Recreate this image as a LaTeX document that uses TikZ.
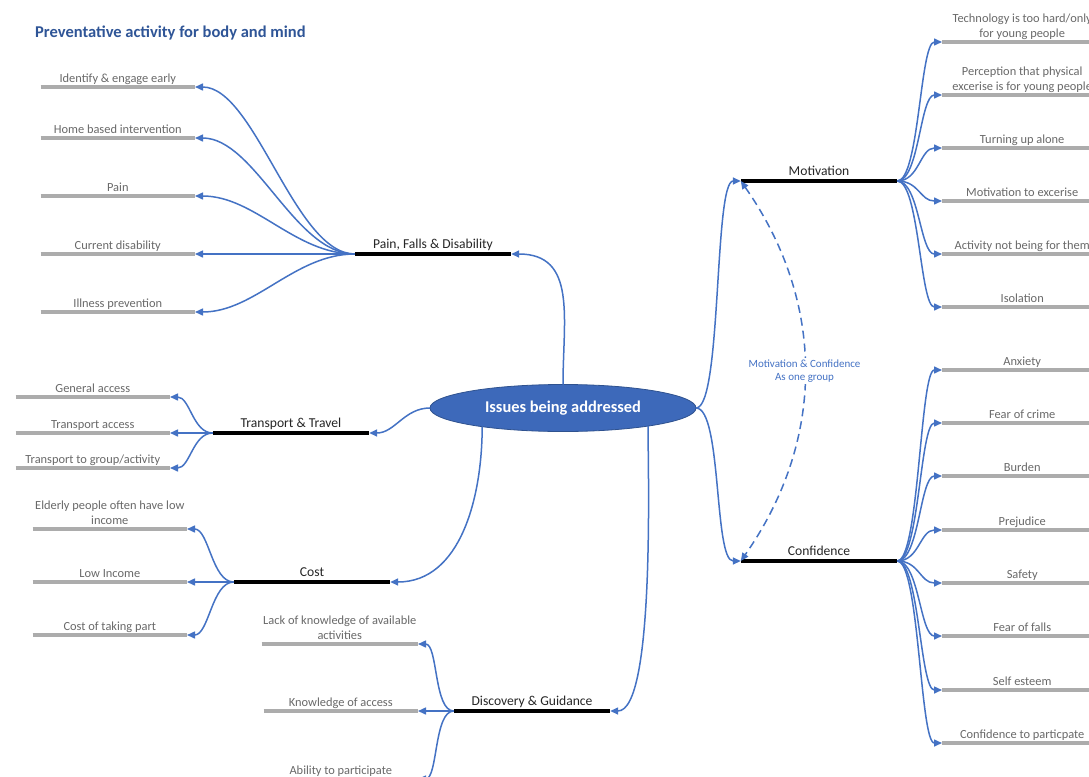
\documentclass[tikz,border=0pt]{standalone}
\usepackage{fontspec}
\setmainfont{Carlito}
\usepackage{xcolor}
\usepackage{tikz}
\usetikzlibrary{positioning, shapes, arrows.meta}

\definecolor{linkblue}{RGB}{68,114,196}
\definecolor{headblue}{RGB}{47,85,151}
\definecolor{ellblue}{RGB}{61,105,186}
\definecolor{ellrim}{RGB}{47,82,143}
\definecolor{linegray}{RGB}{172,172,172}
\definecolor{leafgray}{RGB}{105,105,105}
\definecolor{topicgray}{RGB}{38,38,38}

\begin{document}
\begin{tikzpicture}[
    x=1pt, y=1pt,
    >={Triangle[length=8pt, width=7pt]},
    link/.style={->, draw=linkblue, line width=1.5pt},
    heading/.style={font=\fontsize{16.5}{19}\selectfont\bfseries, text=headblue, inner sep=0pt},
    centre/.style={ellipse, fill=ellblue, draw=ellrim, line width=0.8pt, minimum width=266pt, minimum height=47pt, inner sep=0pt, outer sep=0pt, text=white, font=\fontsize{16.4}{19}\selectfont\bfseries},
    topic/.style={anchor=south, minimum width=156pt, inner sep=2pt, text depth=3pt, text=topicgray, font=\fontsize{13.6}{16}\selectfont,
        append after command={(\tikzlastnode.south west) edge[draw=black, line width=4.5pt] (\tikzlastnode.south east)}},
    leaf/.style={minimum width=154pt, inner sep=1.5pt, text depth=2.5pt, align=center, text=leafgray, font=\fontsize{12.4}{15}\selectfont,
        append after command={(\tikzlastnode.south west) edge[draw=linegray, line width=3.5pt] (\tikzlastnode.south east)}},
    lleaf/.style={leaf, anchor=south east},
    rleaf/.style={leaf, anchor=south west, minimum width=160pt},
    note/.style={fill=white, inner sep=1pt, align=center, text=linkblue, font=\fontsize{11}{13.5}\selectfont}
]

\useasboundingbox (0,0) rectangle (1089,-776);
\fill[white] (0,0) rectangle (1089,-776);

\node[heading, anchor=west] (title) at (35,-33) {Preventative activity for body and mind};

\node[centre] (issues) at (563,-408) {Issues being addressed};

% main branches
\node[topic] (pfd) at (433,-254) {Pain, Falls \& Disability};
\node[topic] (travel) at (291,-433) {Transport \& Travel};
\node[topic] (cost) at (312,-582) {Cost};
\node[topic] (disc) at (532,-711) {Discovery \& Guidance};
\node[topic] (motiv) at (819,-181) {Motivation};
\node[topic] (conf) at (819,-561) {Confidence};

% pain, falls & disability
\node[lleaf] (identify) at (195,-87) {Identify \& engage early};
\node[lleaf] (home) at (195,-138) {Home based intervention};
\node[lleaf] (pain) at (195,-196) {Pain};
\node[lleaf] (disab) at (195,-254) {Current disability};
\node[lleaf] (illness) at (195,-312) {Illness prevention};

% transport
\node[lleaf] (genacc) at (170,-397) {General access};
\node[lleaf] (tpacc) at (170,-433) {Transport access};
\node[lleaf] (tpgroup) at (170,-468) {Transport to group/activity};

% cost
\node[lleaf] (elderly) at (187,-529) {Elderly people often have low\\income};
\node[lleaf] (lowinc) at (187,-582) {Low Income};
\node[lleaf] (costpart) at (187,-635) {Cost of taking part};

% discovery
\node[lleaf] (lack) at (418,-644) {Lack of knowledge of available\\activities};
\node[lleaf] (knowacc) at (418,-711) {Knowledge of access};
\node[lleaf] (ability) at (418,-779) {Ability to participate};

% motivation
\node[rleaf] (tech) at (942,-42) {Technology is too hard/only\\for young people};
\node[rleaf] (percep) at (942,-95) {Perception that physical\\excerise is for young people};
\node[rleaf] (alone) at (942,-148) {Turning up alone};
\node[rleaf] (motex) at (942,-201) {Motivation to excerise};
\node[rleaf] (notthem) at (942,-254) {Activity not being for them};
\node[rleaf] (isol) at (942,-307) {Isolation};

% confidence
\node[rleaf] (anx) at (942,-370) {Anxiety};
\node[rleaf] (crime) at (942,-423) {Fear of crime};
\node[rleaf] (burden) at (942,-476) {Burden};
\node[rleaf] (prej) at (942,-530) {Prejudice};
\node[rleaf] (safety) at (942,-583) {Safety};
\node[rleaf] (falls) at (942,-636) {Fear of falls};
\node[rleaf] (esteem) at (942,-690) {Self esteem};
\node[rleaf] (partic) at (942,-743) {Confidence to particpate};

% centre to branches
\draw[link] (issues.north) to[out=90, in=0, looseness=1.2] (pfd.south east);
\draw[link] (issues.west) to[out=180, in=0] (travel.south east);
\draw[link] (issues.193) to[out=-90, in=0] (cost.south east);
\draw[link] (issues.348) to[out=-90, in=0, looseness=0.4] (disc.south east);
\draw[link] (issues.east) .. controls +(26,0) and +(-27,0) .. (motiv.south west);
\draw[link] (issues.east) .. controls +(26,0) and +(-27,0) .. (conf.south west);

\draw[link, <->, dash pattern=on 8pt off 5pt] (motiv.south west) to[bend left=35]
    node[note] (group) {Motivation \& Confidence\\As one group} (conf.south west);

% branches to leaves
\draw[link] (pfd.south west) to[out=180, in=0, distance=60pt] (identify.south east);
\draw[link] (pfd.south west) to[out=180, in=0, distance=60pt] (home.south east);
\draw[link] (pfd.south west) to[out=180, in=0, distance=60pt] (pain.south east);
\draw[link] (pfd.south west) -- (disab.south east);
\draw[link] (pfd.south west) to[out=180, in=0, distance=60pt] (illness.south east);

\draw[link] (travel.south west) to[out=180, in=0, distance=20pt] (genacc.south east);
\draw[link] (travel.south west) -- (tpacc.south east);
\draw[link] (travel.south west) to[out=180, in=0, distance=20pt] (tpgroup.south east);

\draw[link] (cost.south west) to[out=180, in=0, distance=22pt] (elderly.south east);
\draw[link] (cost.south west) -- (lowinc.south east);
\draw[link] (cost.south west) to[out=180, in=0, distance=22pt] (costpart.south east);

\draw[link] (disc.south west) to[out=180, in=0, distance=20pt] (lack.south east);
\draw[link] (disc.south west) -- (knowacc.south east);
\draw[link] (disc.south west) to[out=180, in=0, distance=20pt] (ability.south east);

\draw[link] (motiv.south east) to[out=0, in=180, distance=22pt] (tech.south west);
\draw[link] (motiv.south east) to[out=0, in=180, distance=22pt] (percep.south west);
\draw[link] (motiv.south east) to[out=0, in=180, distance=22pt] (alone.south west);
\draw[link] (motiv.south east) to[out=0, in=180, distance=22pt] (motex.south west);
\draw[link] (motiv.south east) to[out=0, in=180, distance=22pt] (notthem.south west);
\draw[link] (motiv.south east) to[out=0, in=180, distance=22pt] (isol.south west);

\draw[link] (conf.south east) to[out=0, in=180, distance=22pt] (anx.south west);
\draw[link] (conf.south east) to[out=0, in=180, distance=22pt] (crime.south west);
\draw[link] (conf.south east) to[out=0, in=180, distance=22pt] (burden.south west);
\draw[link] (conf.south east) to[out=0, in=180, distance=22pt] (prej.south west);
\draw[link] (conf.south east) to[out=0, in=180, distance=22pt] (safety.south west);
\draw[link] (conf.south east) to[out=0, in=180, distance=22pt] (falls.south west);
\draw[link] (conf.south east) to[out=0, in=180, distance=22pt] (esteem.south west);
\draw[link] (conf.south east) to[out=0, in=180, distance=22pt] (partic.south west);

\end{tikzpicture}
\end{document}
